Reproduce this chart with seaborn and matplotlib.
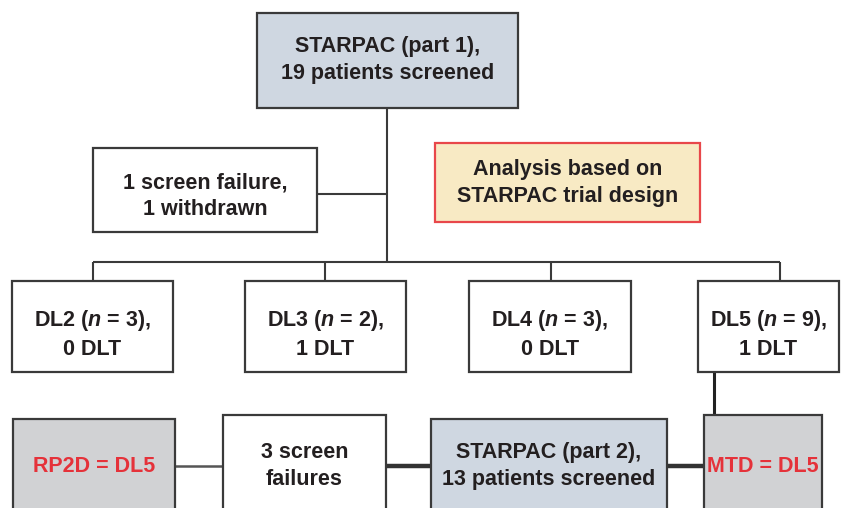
import matplotlib
matplotlib.use("Agg")
import matplotlib.pyplot as plt
from matplotlib.patches import Rectangle
import seaborn as sns

sns.set_theme(style="white")
plt.rcParams['font.family'] = ['Liberation Sans', 'DejaVu Sans']
plt.rcParams['mathtext.fontset'] = 'custom'
plt.rcParams['mathtext.it'] = 'Liberation Sans:italic:bold'
plt.rcParams['mathtext.rm'] = 'Liberation Sans:bold'

# ---- content ----
top_label = "STARPAC (part 1),\n19 patients screened"
side_label = "1 screen failure,\n1 withdrawn"
note_label = "Analysis based on\nSTARPAC trial design"
dose_levels = ["DL2", "DL3", "DL4", "DL5"]
dose_n = [3, 2, 3, 9]
dose_dlt = [0, 1, 0, 1]
bottom_labels = ["RP2D = DL5", "3 screen\nfailures", "STARPAC (part 2),\n13 patients screened", "MTD = DL5"]

# ---- layout (pixel space, y downward) ----
TXT = "#231f20"
EDGE = "#3a3a3a"
RED = "#e5323a"
BLUE = "#cfd7e1"
GREY = "#d1d2d4"
YELLOW = "#f8eac4"
FS = 15.5

fig = plt.figure(figsize=(8.48, 5.08), dpi=100)
ax = fig.add_axes([0, 0, 1, 1])
ax.set_xlim(0, 848)
ax.set_ylim(508, 0)
ax.axis("off")

def box(x0, y0, x1, y1, fc="white", ec=EDGE, lw=1.6, z=3):
    ax.add_patch(Rectangle((x0, y0), x1 - x0, y1 - y0, facecolor=fc,
                           edgecolor=ec, linewidth=lw, zorder=z))

def line(xs, ys, lw=1.5, c=EDGE):
    ax.plot(xs, ys, color=c, lw=lw, zorder=2, solid_capstyle="butt")

def text(x, y, s, color=TXT, fs=FS):
    ax.text(x, y, s, ha="center", va="center", fontsize=fs, fontweight="bold",
            color=color, linespacing=1.35, zorder=5)

# top box
box(257, 13, 518, 108, fc=BLUE)
text(387.5, 60, top_label)

# trunk
line([387, 387], [108, 262])
# side box
box(93, 148, 317, 232)
text(205, 196, side_label)
line([317, 387], [194, 194])
# note box
box(435, 143, 700, 222, fc=YELLOW, ec="#e8474a")
text(567.5, 183, note_label)

# branch bar
branch_x = [93, 325, 551, 780]
line([branch_x[0], branch_x[-1]], [262, 262])
dl_boxes = [(12, 173), (245, 406), (469, 631), (698, 839)]
for bx, (x0, x1), lvl, n, d in zip(branch_x, dl_boxes, dose_levels, dose_n, dose_dlt):
    line([bx, bx], [262, 281])
    box(x0, 281, x1, 372)
    text((x0 + x1) / 2, 334, f"{lvl} ($n$ = {n}),\n{d} DLT")

# bottom row
line([714, 714], [372, 416], lw=2.2, c="#222222")
line([175, 223], [466, 466], lw=1.8, c="#555555")
line([386, 431], [466, 466], lw=3.2, c="#333333")
line([667, 704], [466, 466], lw=3.2, c="#333333")

bottom_boxes = [(13, 419, 175, GREY), (223, 415, 386, "white"),
                (431, 419, 667, BLUE), (704, 415, 822, GREY)]
bottom_colors = [RED, TXT, TXT, RED]
for (x0, y0, x1, fc), lab, col in zip(bottom_boxes, bottom_labels, bottom_colors):
    box(x0, y0, x1, 540, fc=fc)
    text((x0 + x1) / 2, 466, lab, color=col)

fig.savefig("out.png", dpi=100, facecolor="white")
